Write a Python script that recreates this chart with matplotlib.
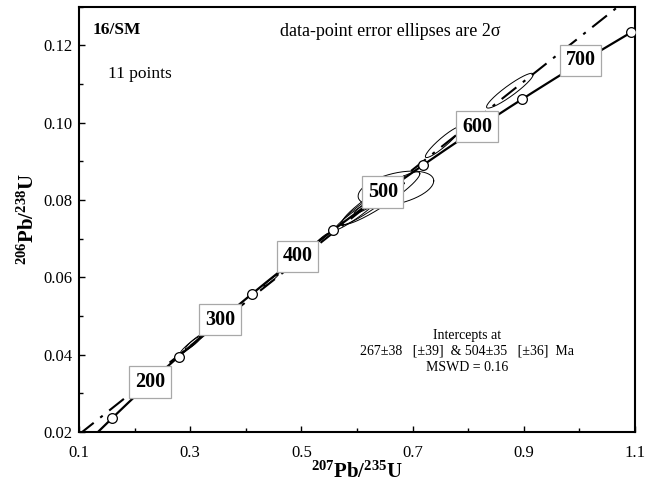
import numpy as np
import matplotlib
matplotlib.use("Agg")
import matplotlib.pyplot as plt
from matplotlib.ticker import MultipleLocator

plt.rcParams['font.family'] = ['Liberation Serif', 'DejaVu Serif']
plt.rcParams['mathtext.fontset'] = 'custom'
plt.rcParams['mathtext.rm'] = 'Liberation Serif'
plt.rcParams['mathtext.bf'] = 'Liberation Serif:bold'

# decay constants (per year)
lam238 = 1.55125e-10
lam235 = 9.8485e-10

# data-point error ellipses (2 sigma half-extents)
pb207_u235 = [0.300, 0.307, 0.445, 0.537, 0.600, 0.625, 0.643, 0.640, 0.670, 0.755, 0.875]
err207 = [0.018, 0.016, 0.013, 0.010, 0.040, 0.055, 0.070, 0.045, 0.068, 0.032, 0.042]
pb206_u238 = [0.0425, 0.0433, 0.0592, 0.0701, 0.0765, 0.0790, 0.0805, 0.0805, 0.0830, 0.0950, 0.1083]
err206 = [0.0022, 0.0020, 0.0015, 0.0012, 0.0042, 0.0055, 0.0068, 0.0040, 0.0045, 0.0040, 0.0045]
rho = [0.95, 0.93, 0.97, 0.97, 0.96, 0.95, 0.93, 0.97, 0.44, 0.93, 0.93]

# concordia ages (Ma)
marker_ages = [150, 250, 350, 450, 550, 650, 750]
label_ages = [200, 300, 400, 500, 600, 700]
lower_int, upper_int = 267, 504


def concordia(t_ma):
    t = np.asarray(t_ma, dtype=float) * 1e6
    return np.exp(lam235 * t) - 1, np.exp(lam238 * t) - 1


fig = plt.figure(figsize=(6.45, 4.86), dpi=100)
ax = fig.add_axes([0.1225, 0.111, 0.862, 0.875])

# concordia curve
t_start = np.log(1.02) / lam238 / 1e6
tt = np.linspace(t_start, marker_ages[-1], 400)
cx, cy = concordia(tt)
ax.plot(cx, cy, color='black', lw=1.6, zorder=3)

# discordia through the two intercepts
x1, y1 = concordia(lower_int)
x2, y2 = concordia(upper_int)
slope = (y2 - y1) / (x2 - x1)
xl = np.array([0.1, 1.1])
ax.plot(xl, y1 + slope * (xl - x1), color='black', lw=1.5,
        linestyle=(0, (9, 4, 1.5, 4)), zorder=2)

# error ellipses
th = np.linspace(0, 2 * np.pi, 200)
for x, dx, y, dy, r in zip(pb207_u235, err207, pb206_u238, err206, rho):
    ex = x + dx * np.cos(th)
    ey = y + dy * (r * np.cos(th) + np.sqrt(1 - r ** 2) * np.sin(th))
    ax.plot(ex, ey, color='black', lw=0.7, zorder=2)

# age markers
mx, my = concordia(marker_ages)
ax.plot(mx, my, 'o', ms=7, mfc='white', mec='black', mew=0.9, zorder=4)

# age labels
lx, ly = concordia(label_ages)
for a, x, y in zip(label_ages, lx, ly):
    ax.annotate(str(a), (x, y), xytext=(4, 4), textcoords='offset points',
                ha='center', va='center', fontsize=14.5, fontweight='bold', zorder=5,
                bbox=dict(boxstyle='square,pad=0.28', fc='white', ec='#a8a8a8', lw=0.9))

ax.set_xlim(0.1, 1.1)
ax.set_ylim(0.02, 0.13)
ax.xaxis.set_minor_locator(MultipleLocator(0.1))
ax.yaxis.set_minor_locator(MultipleLocator(0.01))
ax.set_xticks([0.1, 0.3, 0.5, 0.7, 0.9, 1.1])
ax.set_yticks([0.02, 0.04, 0.06, 0.08, 0.10, 0.12])
ax.set_xticklabels(['0.1', '0.3', '0.5', '0.7', '0.9', '1.1'])
ax.set_yticklabels(['0.02', '0.04', '0.06', '0.08', '0.10', '0.12'])
ax.tick_params(which='both', direction='in', labelsize=12, width=1)
ax.tick_params(which='major', length=4)
ax.tick_params(which='minor', length=3)
ax.tick_params(axis='x', pad=9)
ax.tick_params(axis='y', pad=5)
for s in ax.spines.values():
    s.set_linewidth(1.5)

ax.set_xlabel(r'$\mathbf{^{207}Pb/^{235}U}$', fontsize=15, labelpad=1)
ax.set_ylabel(r'$\mathbf{^{206}Pb/^{238}U}$', fontsize=15, labelpad=3)

ax.text(0.025, 0.965, '16/SM', transform=ax.transAxes, fontsize=12.5,
        fontweight='bold', va='top')
ax.text(0.052, 0.86, '11 points', transform=ax.transAxes, fontsize=12.5, va='top')
ax.text(0.56, 0.962, 'data-point error ellipses are 2σ', transform=ax.transAxes,
        fontsize=13, ha='center', va='top')
ax.text(0.698, 0.19, 'Intercepts at\n267±38   [±39]  & 504±35   [±36]  Ma\nMSWD = 0.16',
        transform=ax.transAxes, fontsize=10, ha='center', va='center',
        linespacing=1.3)

fig.savefig('out.png', dpi=100)
